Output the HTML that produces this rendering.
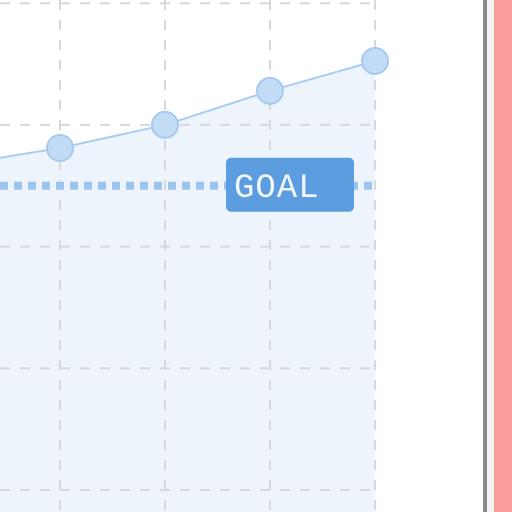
<!DOCTYPE html>
<html><head><meta charset="utf-8"><style>
html,body{margin:0;padding:0;background:#fff;width:512px;height:512px;overflow:hidden}
</style></head><body>
<svg id="c" width="512" height="512" xmlns="http://www.w3.org/2000/svg">
<rect x="0" y="0" width="512" height="512" fill="#fff"/>
<rect x="483" y="0" width="4" height="512" fill="#8a8a8a"/>
<rect x="487" y="0" width="7" height="512" fill="#f4f4f4"/>
<rect x="494" y="0" width="18" height="512" fill="#fc9c9c"/>
</svg>
<script>
const categories = [-1, 0, 1, 2, 3];
const values = [53.4, 56.2, 60, 65.6, 70.5];
const yTicks = [0, 20, 40, 60, 80];
const goal = [50];
const goalLabel = ["GOAL"];

const NS = "http://www.w3.org/2000/svg";
const svg = document.getElementById('c');
const xS = i => 60 + i * 105;
const yS = v => 490 - v / 20 * 121.7;
function mk(t, a, parent) {
  const e = document.createElementNS(NS, t);
  for (const k in a) e.setAttribute(k, a[k]);
  (parent || svg).appendChild(e);
  return e;
}
const plotRight = xS(categories[categories.length - 1]);
// area fill
let d = "M" + xS(categories[0]) + "," + yS(values[0]);
categories.forEach((c, i) => { d += " L" + xS(c) + "," + yS(values[i]); });
d += " L" + plotRight + ",512 L" + xS(categories[0]) + ",512 Z";
const area = mk('path', {d: d, fill: '#eef4fc'});


// grid
yTicks.forEach(t => {
  const g = mk('line', {x1: 0, x2: plotRight, y1: yS(t), y2: yS(t), stroke: '#d8d8d8', 'stroke-width': 2, 'stroke-dasharray': '10,10'});
  
  
});
categories.slice(1).forEach(c => {
  const g = mk('line', {x1: xS(c), x2: xS(c), y1: 0, y2: 512, stroke: '#d8d8d8', 'stroke-width': 2, 'stroke-dasharray': '10,10'});
  
  
});
// line
const pts = categories.map((c, i) => xS(c) + "," + yS(values[i])).join(" ");
const ln = mk('polyline', {points: pts, fill: 'none', stroke: '#a9cdf2', 'stroke-width': 2});


// goal line
const gl = mk('line', {x1: 0, x2: plotRight, y1: yS(goal[0]), y2: yS(goal[0]), stroke: '#9cc4ee', 'stroke-width': 8, 'stroke-dasharray': '8,6'});


// points
categories.forEach((c, i) => {
  if (i === 0) return;
  const p = mk('circle', {cx: xS(c), cy: yS(values[i]), r: 13, fill: '#c3dcf5', stroke: '#a6caef', 'stroke-width': 2});
  
  
});
// goal label
const gy = yS(goal[0]);
const lb = mk('rect', {x: 226, y: gy - 28, width: 128, height: 54, rx: 5, fill: '#5b9ddf'});


const tx = mk('text', {x: 234, y: gy + 11, fill: '#f2f7fd', 'font-family': 'Liberation Mono, monospace', 'font-size': 34, 'letter-spacing': '1'});
tx.textContent = goalLabel[0];


</script>
</body></html>
